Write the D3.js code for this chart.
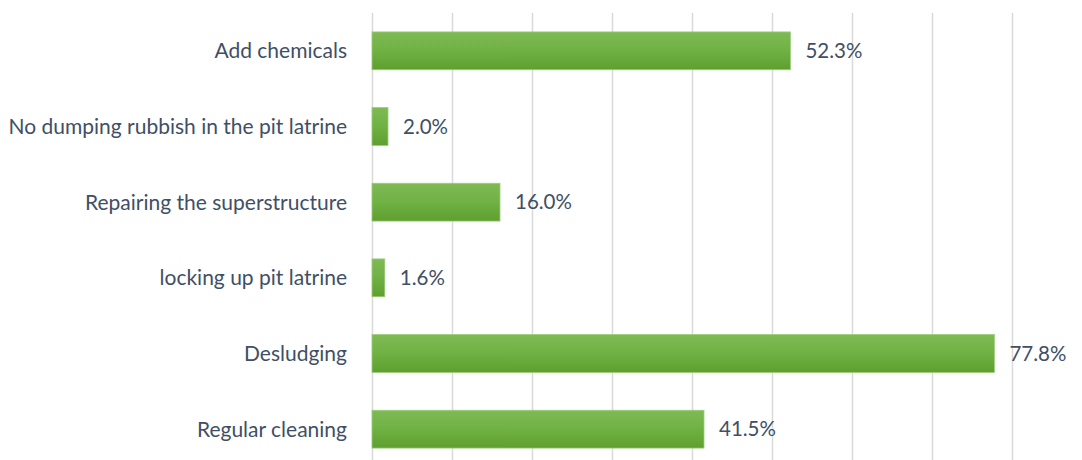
<!DOCTYPE html>
<html>
<head>
<meta charset="utf-8">
<script src="https://cdn.jsdelivr.net/npm/d3@7"></script>
<style>
  body { margin: 0; background: #fff; }
  text { font-family: Lato, "Open Sans", sans-serif; }
</style>
</head>
<body>
<script>
// categories top to bottom
var categories = ["Add chemicals", "No dumping rubbish in the pit latrine",
  "Repairing the superstructure", "locking up pit latrine", "Desludging", "Regular cleaning"]
var values = [52.3, 2.0, 16.0, 1.6, 77.8, 41.5]
var ticks = [0, 10, 20, 30, 40, 50, 60, 70, 80, 90]

var width = 1082, height = 460

var svg = d3.select("body").append("svg")
    .attr("width", width)
    .attr("height", height)

var defs = svg.append("defs")
var grad = defs.append("linearGradient")
    .attr("id", "barGrad")
    .attr("x1", 0).attr("y1", 0).attr("x2", 0).attr("y2", 1)
grad.append("stop").attr("offset", "0%").attr("stop-color", "#7fba55")
grad.append("stop").attr("offset", "50%").attr("stop-color", "#70b144")
grad.append("stop").attr("offset", "100%").attr("stop-color", "#5e9f2f")

var xScale = d3.scaleLinear().domain([0, 90]).range([372, 1092])
var yScale = d3.scaleBand().domain(categories).range([13, 467])
    .paddingInner(0.5).paddingOuter(0.25)

// gridlines
svg.append("g")
  .selectAll("line")
  .data(ticks)
  .enter().append("line")
  .attr("x1", function(d) { return xScale(d) + 0.5 })
  .attr("x2", function(d) { return xScale(d) + 0.5 })
  .attr("y1", 13)
  .attr("y2", 467)
  .attr("stroke", "#d9d9d9")
  .attr("stroke-width", 1.5)

// bars
svg.append("g")
  .selectAll("rect")
  .data(values)
  .enter().append("rect")
  .attr("x", xScale(0))
  .attr("y", function(d, i) { return yScale(categories[i]) })
  .attr("width", function(d) { return xScale(d) - xScale(0) })
  .attr("height", yScale.bandwidth())
  .attr("fill", "url(#barGrad)")
  .attr("stroke", "#9ccc7c")
  .attr("stroke-width", 0.8)

// category labels
svg.append("g")
  .selectAll("text")
  .data(categories)
  .enter().append("text")
  .attr("x", 347)
  .attr("y", function(d) { return yScale(d) + yScale.bandwidth() / 2 })
  .attr("dy", "0.35em")
  .attr("text-anchor", "end")
  .attr("font-size", 21)
  .attr("fill", "#404f66")
  .text(function(d) { return d })

// value labels
svg.append("g")
  .selectAll("text")
  .data(values)
  .enter().append("text")
  .attr("x", function(d) { return xScale(d) + 15 })
  .attr("y", function(d, i) { return yScale(categories[i]) + yScale.bandwidth() / 2 })
  .attr("dy", "0.35em")
  .attr("font-size", 20.5)
  .attr("fill", "#404f66")
  .text(function(d) { return d.toFixed(1) + "%" })
</script>
</body>
</html>
